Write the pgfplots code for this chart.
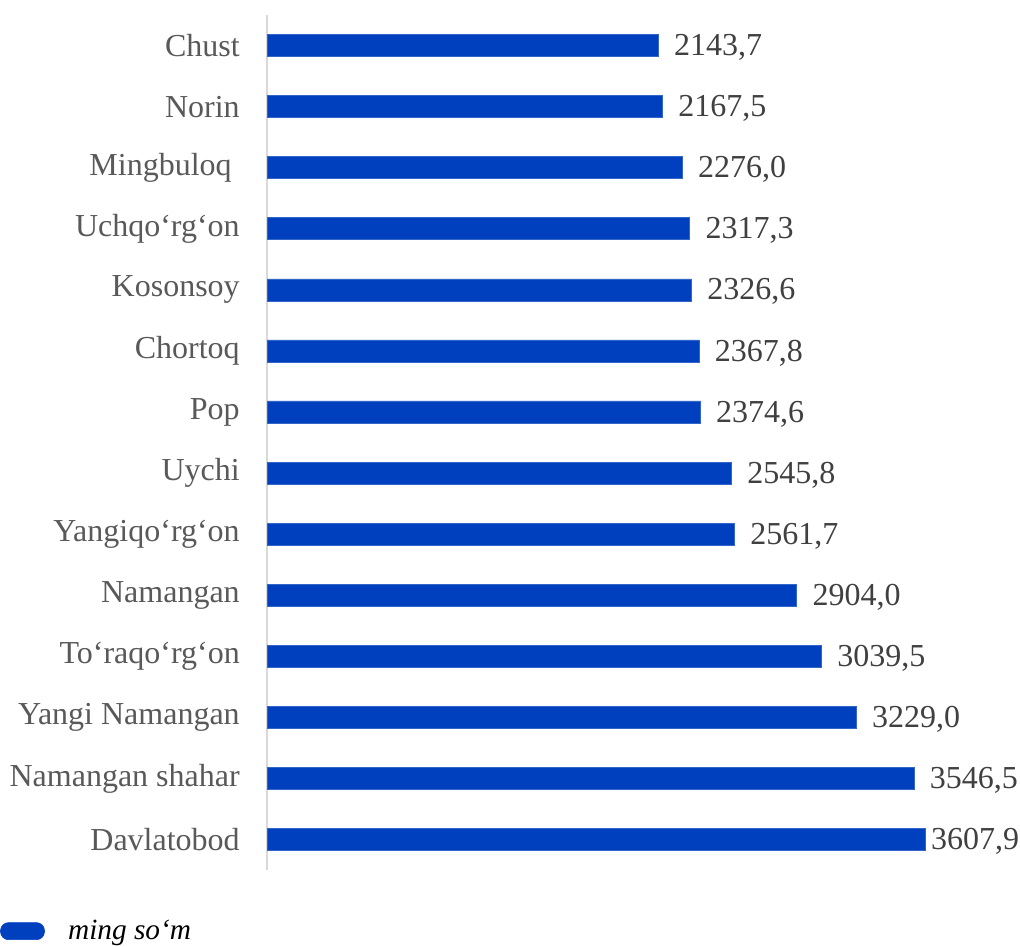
\documentclass[border=0pt]{standalone}
\usepackage{pgfplots}
\pgfplotsset{compat=1.18}
\usepackage{pgfplotstable}
\usepackage{fontspec}
\setmainfont{Liberation Serif}
\definecolor{barblue}{RGB}{0,64,190}
\definecolor{labgray}{RGB}{89,89,89}
\definecolor{valgray}{RGB}{64,64,64}
\definecolor{axgray}{RGB}{217,217,217}
\pgfplotstableread{
idx val lab
0 2143.7 2143,7
1 2167.5 2167,5
2 2276.0 2276,0
3 2317.3 2317,3
4 2326.6 2326,6
5 2367.8 2367,8
6 2374.6 2374,6
7 2545.8 2545,8
8 2561.7 2561,7
9 2904.0 2904,0
10 3039.5 3039,5
11 3229.0 3229,0
12 3546.5 3546,5
}\datatable
\pgfplotstableread{
idx val lab
13 3607.9 3607,9
}\lasttable
\begin{document}
\begin{tikzpicture}
\useasboundingbox (0,0) rectangle (765pt,709.5pt);
\begin{axis}[
  at={(200.25pt,57pt)}, anchor=south west,
  scale only axis, width=547.2pt, height=641.25pt,
  xbar, bar width=16.5pt, bar shift=0pt,
  xmin=0, xmax=4000,
  ymin=-0.5, ymax=13.5,
  y dir=reverse,
  hide x axis,
  axis y line=left,
  y axis line style={-, draw=axgray, line width=1pt},
  ytick={0,...,13},
  yticklabels={Chust,Norin,Mingbuloq\kern6pt,Uchqo‘rg‘on,Kosonsoy,Chortoq,Pop,Uychi,Yangiqo‘rg‘on,Namangan,To‘raqo‘rg‘on,Yangi Namangan,Namangan shahar,Davlatobod},
  major tick length=0pt,
  yticklabel style={font=\fontsize{24}{28}\selectfont, text=labgray, inner sep=0pt, xshift=-20.25pt},
  nodes near coords,
  point meta=explicit symbolic,
  nodes near coords style={font=\fontsize{24}{28}\selectfont, text=valgray, anchor=west, xshift=8.5pt, yshift=-1.5pt},
  legend style={at={(-0.366,-0.0715)}, anchor=west, draw=none, fill=none, inner sep=0pt,
    font=\fontsize{22}{26}\selectfont\itshape, text=black},
  legend image code/.code={\fill[barblue, rounded corners=6pt] (0pt,-6.4pt) rectangle (33pt,6.4pt); \path (48.5pt,0pt);},
]
\addplot[fill=barblue, draw=barblue!80!white] table[x=val, y=idx, meta=lab]{\datatable};
\addlegendentry{ming so‘m}
\addplot[fill=barblue, draw=barblue!80!white, forget plot,
  nodes near coords style={xshift=-7.5pt}] table[x=val, y=idx, meta=lab]{\lasttable};
\end{axis}
\end{tikzpicture}
\end{document}
